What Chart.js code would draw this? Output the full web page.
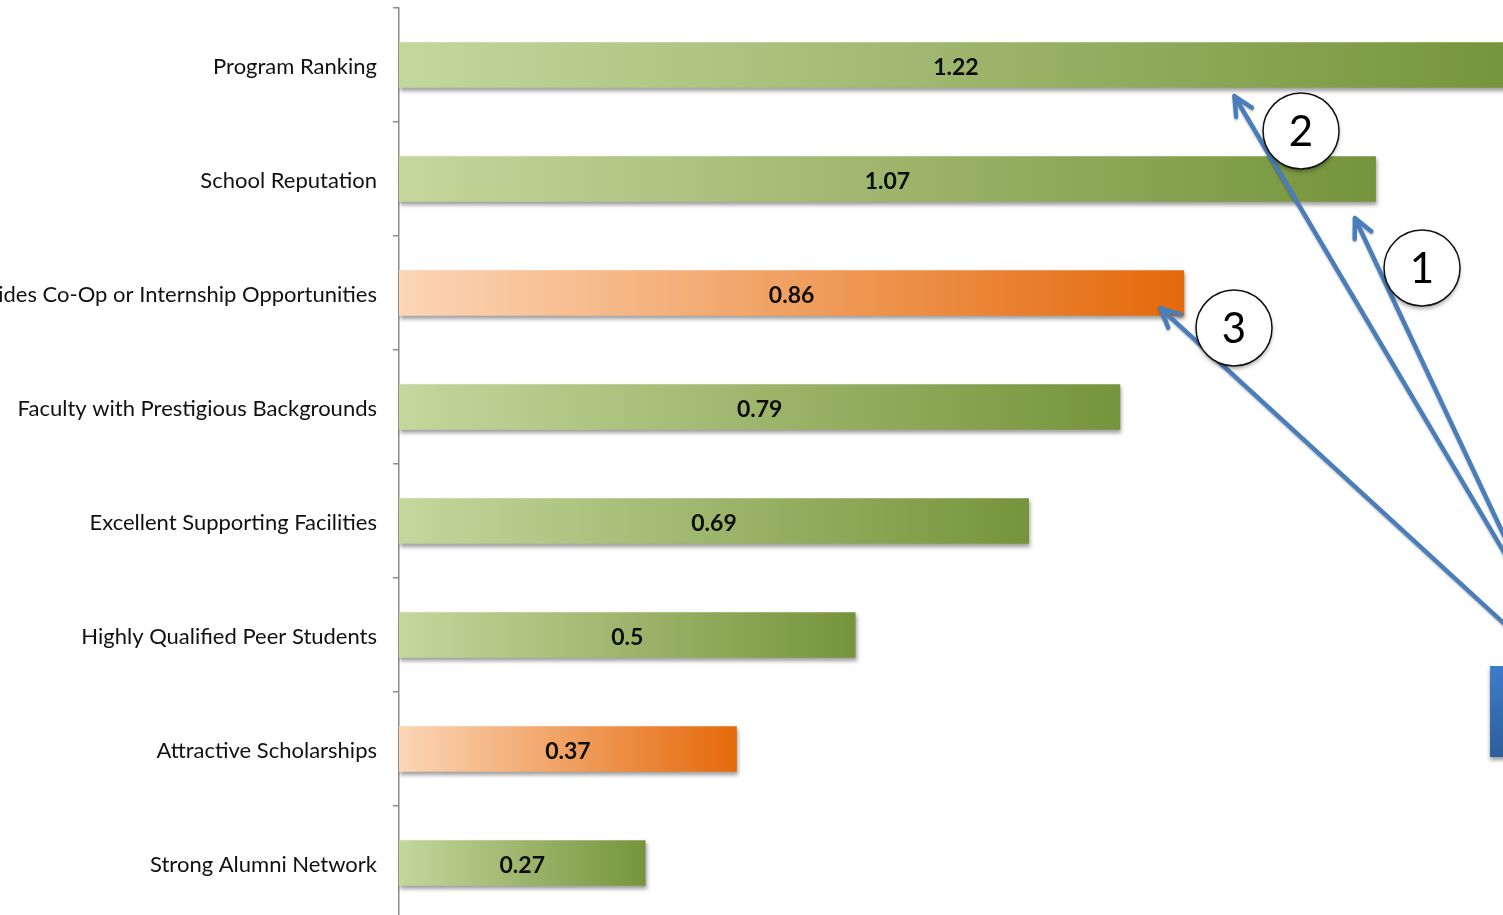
<!DOCTYPE html>
<html>
<head>
<meta charset="utf-8">
<script src="https://cdn.jsdelivr.net/npm/chart.js@4.4.1/dist/chart.umd.min.js"></script>
<style>
  html, body { margin: 0; padding: 0; background: #ffffff; overflow: hidden; }
  #wrap { width: 1503px; height: 925px; }
</style>
</head>
<body>
<div id="wrap"><canvas id="chart" width="1503" height="925"></canvas></div>
<script>
// Factors and their scores
const categories = [
  'Program Ranking',
  'School Reputation',
  'Provides Co-Op or Internship Opportunities',
  'Faculty with Prestigious Backgrounds',
  'Excellent Supporting Facilities',
  'Highly Qualified Peer Students',
  'Attractive Scholarships',
  'Strong Alumni Network'
];
const scores = [1.22, 1.07, 0.86, 0.79, 0.69, 0.5, 0.37, 0.27];
// Which factors are highlighted in orange
const highlighted = [false, false, true, false, false, false, true, false];

// Callouts: circled numbers and arrows, placed in value / category units
const callouts = [
  { num: '2', circle: [0.988, 0.579], tip: [0.915, 0.272], tail: [1.231, 4.553] },
  { num: '1', circle: [1.1205, 1.781], tip: [1.047, 1.342], tail: [1.231, 4.48] },
  { num: '3', circle: [0.9146, 2.307], tip: [0.834, 2.132], tail: [1.231, 5.05] }
];
const boxSpan = { x: [1.195, 1.25], y: [5.272, 6.07] };

const GREEN = ['#c4d79d', '#76943b'];
const ORANGE = ['#fcd6b7', '#e4690a'];

function barFill(ctx) {
  const chart = ctx.chart;
  const area = chart.chartArea;
  const i = ctx.dataIndex;
  const pair = highlighted[i] ? ORANGE : GREEN;
  if (!area) return pair[1];
  const xs = chart.scales.x;
  const x0 = xs.getPixelForValue(0);
  const x1 = xs.getPixelForValue(scores[i]);
  const g = chart.ctx.createLinearGradient(x0, 0, x1, 0);
  g.addColorStop(0, pair[0]);
  g.addColorStop(1, pair[1]);
  return g;
}

// Soft drop shadow under the bars
const barShadow = {
  id: 'barShadow',
  beforeDatasetDraw(chart) {
    const c = chart.ctx;
    c.save();
    c.shadowColor = 'rgba(0,0,0,0.38)';
    c.shadowBlur = 4;
    c.shadowOffsetX = 1;
    c.shadowOffsetY = 3;
  },
  afterDatasetDraw(chart) {
    chart.ctx.restore();
  }
};

// Score printed in the middle of each bar
const valueLabels = {
  id: 'valueLabels',
  afterDatasetsDraw(chart) {
    const c = chart.ctx;
    const xs = chart.scales.x;
    const meta = chart.getDatasetMeta(0);
    c.save();
    c.font = 'bold 23px Lato, "Liberation Sans", sans-serif';
    c.fillStyle = '#0d0d0d';
    c.textAlign = 'center';
    c.textBaseline = 'middle';
    meta.data.forEach((bar, i) => {
      const cx = (xs.getPixelForValue(0) + xs.getPixelForValue(scores[i])) / 2;
      c.fillText(String(scores[i]), cx, bar.y + 3);
    });
    c.restore();
  }
};

// Arrows, circled numbers and the side box
const calloutLayer = {
  id: 'calloutLayer',
  afterDraw(chart) {
    const c = chart.ctx;
    const xs = chart.scales.x;
    const ys = chart.scales.y;
    const band = (ys.bottom - ys.top) / categories.length;
    const px = v => xs.getPixelForValue(v);
    const py = p => ys.top + (p + 0.5) * band;

    // side box
    const bx0 = px(boxSpan.x[0]), bx1 = px(boxSpan.x[1]);
    const by0 = py(boxSpan.y[0]), by1 = py(boxSpan.y[1]);
    c.save();
    c.shadowColor = 'rgba(0,0,0,0.4)';
    c.shadowBlur = 4;
    c.shadowOffsetY = 3;
    const bg = c.createLinearGradient(0, by0, 0, by1);
    bg.addColorStop(0, '#3d7ccb');
    bg.addColorStop(1, '#2d5e9c');
    c.fillStyle = bg;
    c.fillRect(bx0, by0, bx1 - bx0, by1 - by0);
    c.restore();

    // arrows
    callouts.forEach(cl => {
      const tx = px(cl.tip[0]), ty = py(cl.tip[1]);
      const ex = px(cl.tail[0]), ey = py(cl.tail[1]);
      const ang = Math.atan2(ey - ty, ex - tx);
      const arm = 21, spread = 0.45;
      c.save();
      c.strokeStyle = '#4a7ebb';
      c.lineWidth = 4.5;
      c.lineCap = 'round';
      c.lineJoin = 'round';
      c.shadowColor = 'rgba(0,0,0,0.25)';
      c.shadowBlur = 2;
      c.shadowOffsetY = 1.5;
      c.beginPath();
      c.moveTo(ex, ey);
      c.lineTo(tx, ty);
      c.moveTo(tx + arm * Math.cos(ang + spread), ty + arm * Math.sin(ang + spread));
      c.lineTo(tx, ty);
      c.lineTo(tx + arm * Math.cos(ang - spread), ty + arm * Math.sin(ang - spread));
      c.stroke();
      c.restore();
    });

    // circled numbers
    callouts.forEach(cl => {
      const cx = px(cl.circle[0]), cy = py(cl.circle[1]);
      c.save();
      c.shadowColor = 'rgba(0,0,0,0.35)';
      c.shadowBlur = 4;
      c.shadowOffsetY = 3;
      c.beginPath();
      c.arc(cx, cy, 38, 0, Math.PI * 2);
      c.fillStyle = '#ffffff';
      c.fill();
      c.restore();
      c.save();
      c.beginPath();
      c.arc(cx, cy, 38, 0, Math.PI * 2);
      c.strokeStyle = '#111111';
      c.lineWidth = 1.5;
      c.stroke();
      c.font = '42px Lato, "Liberation Sans", sans-serif';
      c.fillStyle = '#000000';
      c.textAlign = 'center';
      c.textBaseline = 'middle';
      c.fillText(cl.num, cx, cy + 1);
      c.restore();
    });
  }
};

new Chart(document.getElementById('chart'), {
  type: 'bar',
  data: {
    labels: categories,
    datasets: [{
      data: scores,
      backgroundColor: barFill,
      borderWidth: 0,
      barPercentage: 0.4,
      categoryPercentage: 1.0
    }]
  },
  options: {
    indexAxis: 'y',
    responsive: false,
    animation: false,
    devicePixelRatio: 1,
    layout: { autoPadding: false, padding: { top: 8, bottom: 5, left: 0, right: 0 } },
    plugins: {
      legend: { display: false },
      tooltip: { enabled: false },
      title: { display: false }
    },
    scales: {
      x: {
        display: false,
        min: 0,
        max: 1.2092
      },
      y: {
        offset: true,
        afterFit(scale) {
          scale.width = 399;
          scale.paddingTop = 0;
          scale.paddingBottom = 0;
        },
        border: { display: true, color: '#8c8c8c', width: 1.5 },
        grid: {
          offset: true,
          drawOnChartArea: false,
          drawTicks: true,
          tickLength: 6,
          color: '#8c8c8c',
          lineWidth: 1.5
        },
        ticks: {
          padding: 16,
          labelOffset: 2,
          color: '#111111',
          font: { family: 'Lato, "Liberation Sans", sans-serif', size: 22 }
        }
      }
    }
  },
  plugins: [barShadow, valueLabels, calloutLayer]
});
</script>
</body>
</html>
